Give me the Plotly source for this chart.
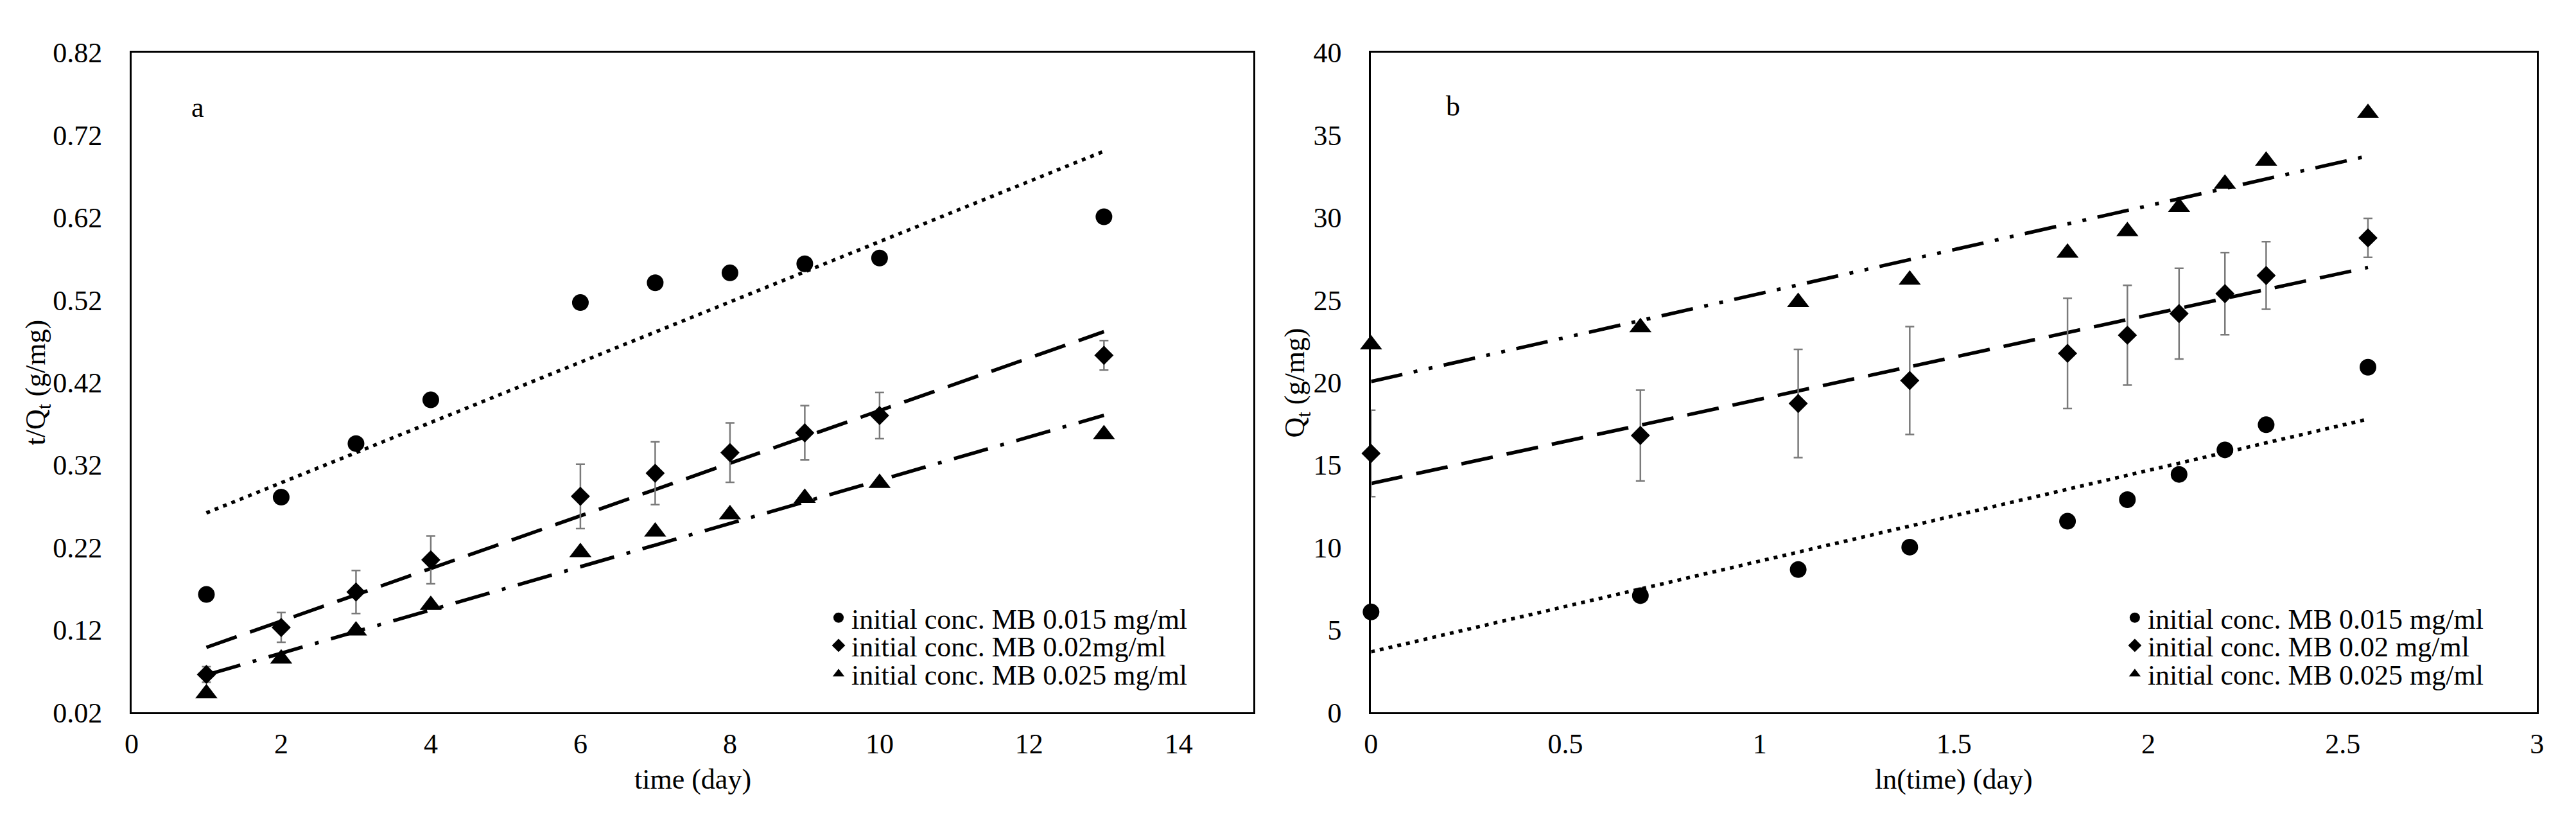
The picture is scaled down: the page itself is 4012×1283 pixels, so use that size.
import numpy as np
import plotly.graph_objects as go

# ---------------- data ----------------
time_day = [1, 2, 3, 4, 6, 7, 8, 9, 10, 13]
ln_time = [0.0, 0.693, 1.099, 1.386, 1.792, 1.946, 2.079, 2.197, 2.303, 2.565]

names_a = ["initial conc. MB 0.015 mg/ml", "initial conc. MB 0.02mg/ml", "initial conc. MB 0.025 mg/ml"]
names_b = ["initial conc. MB 0.015 mg/ml", "initial conc. MB 0.02 mg/ml", "initial conc. MB 0.025 mg/ml"]

# panel a : t/Qt (g/mg) vs time (day)
a_015 = [0.163, 0.281, 0.346, 0.399, 0.517, 0.541, 0.553, 0.564, 0.571, 0.621]
a_020 = [0.066, 0.123, 0.166, 0.205, 0.282, 0.310, 0.335, 0.359, 0.380, 0.453]
a_020_err = [0.0095, 0.018, 0.026, 0.029, 0.039, 0.038, 0.036, 0.033, 0.028, 0.018]
a_025 = [0.043, 0.085, 0.119, 0.150, 0.214, 0.239, 0.260, 0.280, 0.298, 0.357]

# panel b : Qt (g/mg) vs ln(time)
b_015 = [6.09, 7.08, 8.66, 10.02, 11.59, 12.90, 14.43, 15.92, 17.44, 20.93]
b_020 = [15.70, 16.79, 18.73, 20.12, 21.77, 22.87, 24.18, 25.39, 26.49, 28.77]
b_020_err = [2.62, 2.75, 3.28, 3.27, 3.34, 3.02, 2.75, 2.49, 2.05, 1.18]
b_025 = [22.30, 23.34, 24.87, 26.23, 27.86, 29.17, 30.64, 32.05, 33.44, 36.33]

a_xticks = [0, 2, 4, 6, 8, 10, 12, 14]
a_yticks = [0.02, 0.12, 0.22, 0.32, 0.42, 0.52, 0.62, 0.72, 0.82]
b_xticks = [0, 0.5, 1, 1.5, 2, 2.5, 3]
b_yticks = [0, 5, 10, 15, 20, 25, 30, 35, 40]

# ---------------- style ----------------
FONT = "Liberation Serif"
FS = 44
W, H = 4012, 1283
ax_a = (187, 1944)
ax_b = (2128, 3954)
top_px, bot_px = 52, 1120
legend_rows = [967, 1012, 1058]
legend_left = {"a": 1274, "b": 3304}

def px2x(p):
    return p / W

def px2y(p):
    return (H - p) / H

DOT = "6px,8px"
DASH = "50px,22px"
DASHDOT = "55px,20px,6px,20px"
DASHDOTDOT = "50px,18px,6px,18px,6px,18px"
ERRCOL = "#7a7a7a"

fig = go.Figure()

def trend(x, y, dash, xa, ya):
    k, c = np.polyfit(x, y, 1)
    xs = np.array([min(x), max(x)])
    fig.add_trace(go.Scatter(x=xs, y=k * xs + c, mode="lines",
                             line=dict(color="black", width=5.5, dash=dash),
                             xaxis=xa, yaxis=ya, showlegend=False, hoverinfo="skip"))

def points(x, y, name, symbol, size, xa, ya, legend, err=None):
    kw = {}
    if err is not None:
        kw["error_y"] = dict(type="data", array=err, visible=True,
                             color=ERRCOL, thickness=2.5, width=7)
    fig.add_trace(go.Scatter(x=x, y=y, mode="markers", name=name,
                             marker=dict(symbol=symbol, size=size, color="black"),
                             xaxis=xa, yaxis=ya, legend=legend, cliponaxis=False, **kw))

# panel a
trend(time_day, a_015, DOT, "x", "y")
trend(time_day, a_020, DASH, "x", "y")
trend(time_day, a_025, DASHDOT, "x", "y")
points(time_day, a_015, names_a[0], "circle", 26, "x", "y", "legend")
points(time_day, a_020, names_a[1], "diamond", 23, "x", "y", "legend2", a_020_err)
points(time_day, a_025, names_a[2], "triangle-up", 30, "x", "y", "legend3")

# panel b
trend(ln_time, b_015, DOT, "x2", "y2")
trend(ln_time, b_020, DASH, "x2", "y2")
trend(ln_time, b_025, DASHDOTDOT, "x2", "y2")
points(ln_time, b_015, names_b[0], "circle", 26, "x2", "y2", "legend4")
points(ln_time, b_020, names_b[1], "diamond", 23, "x2", "y2", "legend5", b_020_err)
points(ln_time, b_025, names_b[2], "triangle-up", 30, "x2", "y2", "legend6")

axis_common = dict(showline=True, mirror=True, linecolor="black", linewidth=3,
                   showgrid=False, zeroline=False, ticks="",
                   tickfont=dict(family=FONT, size=FS, color="black"))

ydom = [px2y(bot_px), px2y(top_px)]

def leg(panel, row):
    return dict(x=px2x(legend_left[panel]), y=px2y(legend_rows[row]),
                xanchor="left", yanchor="middle", bgcolor="rgba(0,0,0,0)",
                borderwidth=0, font=dict(family=FONT, size=FS, color="black"))

fig.update_layout(
    width=W, height=H,
    margin=dict(l=0, r=0, t=0, b=0),
    paper_bgcolor="white", plot_bgcolor="white",
    font=dict(family=FONT, size=FS, color="black"),
    xaxis=dict(domain=[px2x(ax_a[0]), px2x(ax_a[1])], range=[0, 15],
               tickvals=a_xticks, anchor="y", ticklabelstandoff=8, **axis_common),
    yaxis=dict(domain=ydom, range=[0.02, 0.82], tickvals=a_yticks, tickformat=".2f",
               anchor="x", ticklabelstandoff=34, **axis_common),
    xaxis2=dict(domain=[px2x(ax_b[0]), px2x(ax_b[1])], range=[0, 3],
                tickvals=b_xticks, anchor="y2", ticklabelstandoff=8, **axis_common),
    yaxis2=dict(domain=ydom, range=[0, 40], tickvals=b_yticks,
                anchor="x2", ticklabelstandoff=34, **axis_common),
    legend=leg("a", 0), legend2=leg("a", 1), legend3=leg("a", 2),
    legend4=leg("b", 0), legend5=leg("b", 1), legend6=leg("b", 2),
    showlegend=True,
)

def ann(text, xp, yp, angle=0):
    fig.add_annotation(text=text, x=px2x(xp), y=px2y(yp), xref="paper", yref="paper",
                       showarrow=False, textangle=angle, xanchor="center", yanchor="middle",
                       font=dict(family=FONT, size=FS, color="black"))

ann("time (day)", (ax_a[0] + ax_a[1]) / 2, 1228)
ann("ln(time) (day)", (ax_b[0] + ax_b[1]) / 2, 1228)
ann("t/Q<sub>t</sub> (g/mg)", 40, 586, -90)
ann("Q<sub>t</sub> (g/mg)", 2012, 586, -90)
ann("a", 291, 141)
ann("b", 2256, 139)

fig.write_html("out.html")
